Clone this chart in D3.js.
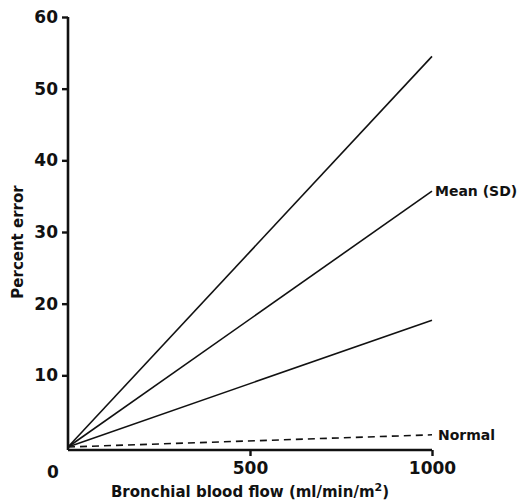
<!DOCTYPE html>
<html>
<head>
<meta charset="utf-8">
<script src="https://cdn.jsdelivr.net/npm/d3@7"></script>
<style>
  body { margin: 0; background: #fff; }
  text { font-family: "DejaVu Sans", sans-serif; fill: #111; }
</style>
</head>
<body>
<script>
// flow values (ml/min/m2) at the two ends of each line
var flow = [0, 1000];
// percent error for the three SD lines and the normal line
var upperSD = [0, 54.5];
var meanSD = [0, 35.7];
var lowerSD = [0, 17.7];
var normal = [0, 1.7];
var yTicks = [10, 20, 30, 40, 50, 60];
var xTicks = [500, 1000];

var width = 519, height = 502;

var x = d3.scaleLinear().domain([0, 1000]).range([68, 432]);
var y = d3.scaleLinear().domain([0, 60]).range([447, 17]);

var svg = d3.select("body").append("svg")
    .attr("width", width)
    .attr("height", height);

// lines from origin
var line = d3.line()
    .x(function(d, i) { return x(flow[i]); })
    .y(function(d) { return y(d); });

[upperSD, meanSD, lowerSD].forEach(function(s) {
  svg.append("path")
    .attr("d", line(s))
    .attr("fill", "none")
    .attr("stroke", "#111")
    .attr("stroke-width", 1.6);
});

svg.append("path")
  .attr("d", line(normal))
  .attr("fill", "none")
  .attr("stroke", "#111")
  .attr("stroke-width", 1.6)
  .attr("stroke-dasharray", "7,5");

// y axis
var yAxis = d3.axisLeft(y).tickValues(yTicks).tickSize(6).tickPadding(4);
var gy = svg.append("g").attr("transform", "translate(" + x(0) + ",0)").call(yAxis);
gy.select(".domain").remove();
gy.append("line")
  .attr("x1", 0).attr("x2", 0)
  .attr("y1", y(60)).attr("y2", 450)
  .attr("stroke", "#111").attr("stroke-width", 2.6);
gy.selectAll(".tick line").attr("stroke", "#111").attr("stroke-width", 2.4);
gy.selectAll(".tick text")
  .style("font-size", "17px").style("font-weight", "bold")
  .attr("fill", "#111");

// x axis
var xAxis = d3.axisBottom(x).tickValues(xTicks).tickFormat(d3.format("d"))
    .tickSize(6).tickPadding(6);
var gx = svg.append("g").attr("transform", "translate(0,450)").call(xAxis);
gx.select(".domain").remove();
gx.append("line")
  .attr("x1", x(0)).attr("x2", x(1000))
  .attr("y1", 0).attr("y2", 0)
  .attr("stroke", "#111").attr("stroke-width", 2.6);
gx.selectAll(".tick line").attr("stroke", "#111").attr("stroke-width", 2.4);
gx.selectAll(".tick text")
  .style("font-size", "17px").style("font-weight", "bold")
  .attr("fill", "#111");

// lone zero label
svg.append("text")
  .attr("x", 53).attr("y", 478)
  .attr("text-anchor", "middle")
  .style("font-size", "17px").style("font-weight", "bold")
  .text("0");

// axis titles
var xt = svg.append("text")
  .attr("x", 250).attr("y", 497)
  .attr("text-anchor", "middle")
  .style("font-size", "15px").style("font-weight", "bold")
  .text("Bronchial blood flow (ml/min/m");
xt.append("tspan").attr("dy", -6).style("font-size", "11px").text("2");
xt.append("tspan").attr("dy", 6).text(")");

svg.append("text")
  .attr("transform", "translate(23,242) rotate(-90)")
  .attr("text-anchor", "middle")
  .style("font-size", "15px").style("font-weight", "bold")
  .text("Percent error");

// line labels
svg.append("text")
  .attr("x", x(1000) + 3).attr("y", y(meanSD[1]) + 5)
  .style("font-size", "14px").style("font-weight", "bold")
  .text("Mean (SD)");
svg.append("text")
  .attr("x", x(1000) + 6).attr("y", y(normal[1]) + 5)
  .style("font-size", "14px").style("font-weight", "bold")
  .text("Normal");
</script>
</body>
</html>
